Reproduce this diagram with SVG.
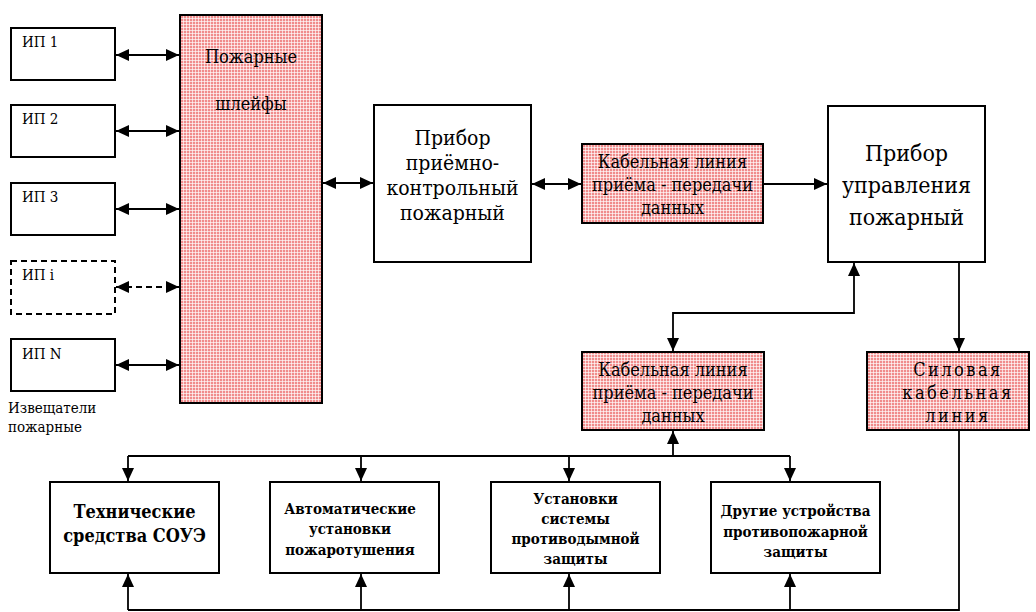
<svg xmlns="http://www.w3.org/2000/svg" width="1036" height="612" viewBox="0 0 1036 612">
<style>
.box{fill:#fff;stroke:#000;stroke-width:2}
.pink{fill:url(#chk);stroke:#000;stroke-width:2}
.dash{fill:#fff;stroke:#000;stroke-width:2;stroke-dasharray:6,4}
.ln{fill:none;stroke:#000;stroke-width:1.8}
.c{text-anchor:middle}
.b{font-weight:bold}
</style>
<defs>
<pattern id="chk" patternUnits="userSpaceOnUse" width="3" height="3">
<rect width="3" height="3" fill="#f08c8c"/>
<path d="M0,0.5H3M0.5,0V3" stroke="#fff" stroke-width="1" stroke-opacity="0.65"/>
</pattern>
<marker id="ah" markerUnits="userSpaceOnUse" markerWidth="14" markerHeight="14" refX="13" refY="6" orient="auto-start-reverse">
<path d="M0,0L13,6L0,12z" fill="#000"/>
</marker>
</defs>

<g id="connectors">
<path class="ln" d="M116,55H179" marker-start="url(#ah)" marker-end="url(#ah)"/>
<path class="ln" d="M116,131H179" marker-start="url(#ah)" marker-end="url(#ah)"/>
<path class="ln" d="M116,209H179" marker-start="url(#ah)" marker-end="url(#ah)"/>
<path class="ln" d="M116,287H179" stroke-dasharray="6,4" marker-start="url(#ah)" marker-end="url(#ah)"/>
<path class="ln" d="M116,365H179" marker-start="url(#ah)" marker-end="url(#ah)"/>
<path class="ln" d="M323,183H373" marker-start="url(#ah)" marker-end="url(#ah)"/>
<path class="ln" d="M532,184H581" marker-start="url(#ah)" marker-end="url(#ah)"/>
<path class="ln" d="M764,184H827" marker-end="url(#ah)"/>
<path class="ln" d="M854,263V313H673V351" marker-start="url(#ah)" marker-end="url(#ah)"/>
<path class="ln" d="M959,263V351" marker-end="url(#ah)"/>
<path class="ln" d="M673,456V431" marker-end="url(#ah)"/>
<path class="ln" d="M128,456H790"/>
<path class="ln" d="M128,456V481" marker-end="url(#ah)"/>
<path class="ln" d="M361,456V481" marker-end="url(#ah)"/>
<path class="ln" d="M569,456V481" marker-end="url(#ah)"/>
<path class="ln" d="M790,456V481" marker-end="url(#ah)"/>
<path class="ln" d="M959,431V610H128"/>
<path class="ln" d="M128,610V574" marker-end="url(#ah)"/>
<path class="ln" d="M361,610V574" marker-end="url(#ah)"/>
<path class="ln" d="M569,610V574" marker-end="url(#ah)"/>
<path class="ln" d="M790,610V574" marker-end="url(#ah)"/>
</g>

<g font-family="DejaVu Serif Condensed, DejaVu Serif, serif" fill="#000">
<g id="ip1"><rect class="box" x="11" y="28" width="104" height="52"/><text x="22" y="47" font-size="15">ИП 1</text></g>
<g id="ip2"><rect class="box" x="11" y="105" width="104" height="52"/><text x="22" y="124" font-size="15">ИП 2</text></g>
<g id="ip3"><rect class="box" x="11" y="183" width="104" height="52"/><text x="22" y="202" font-size="15">ИП 3</text></g>
<g id="ipi"><rect class="dash" x="11" y="261" width="104" height="53"/><text x="22" y="280" font-size="15">ИП i</text></g>
<g id="ipn"><rect class="box" x="11" y="339" width="104" height="52"/><text x="22" y="359" font-size="15">ИП N</text></g>
<g id="ip-label"><text x="8" y="413" font-size="15">Извещатели</text><text x="8" y="432" font-size="15">пожарные</text></g>

<g id="shleyfy"><rect class="pink" x="180" y="15" width="142" height="388"/>
<text class="c" x="251" y="63" font-size="18">Пожарные</text>
<text class="c" x="251" y="110" font-size="18">шлейфы</text></g>

<g id="ppk"><rect class="box" x="374" y="105" width="157" height="157"/>
<text class="c" font-size="21"><tspan x="452.5" y="145">Прибор</tspan><tspan x="452.5" y="170">приёмно-</tspan><tspan x="452.5" y="195">контрольный</tspan><tspan x="452.5" y="220">пожарный</tspan></text></g>

<g id="cable1"><rect class="pink" x="582" y="144" width="181" height="79"/>
<text class="c" font-size="18"><tspan x="672.5" y="168">Кабельная линия</tspan><tspan x="672.5" y="191">приёма - передачи</tspan><tspan x="672.5" y="214">данных</tspan></text></g>

<g id="ppu"><rect class="box" x="828" y="106" width="157" height="156"/>
<text class="c" font-size="23"><tspan x="906.5" y="161">Прибор</tspan><tspan x="906.5" y="193">управления</tspan><tspan x="906.5" y="225">пожарный</tspan></text></g>

<g id="cable2"><rect class="pink" x="582" y="352" width="182" height="78"/>
<text class="c" font-size="18"><tspan x="673" y="376">Кабельная линия</tspan><tspan x="673" y="399">приёма - передачи</tspan><tspan x="673" y="422">данных</tspan></text></g>

<g id="power"><rect class="pink" x="867" y="352" width="162" height="78"/>
<text class="c" font-size="18" letter-spacing="2.5"><tspan x="958" y="376">Силовая</tspan><tspan x="958" y="399">кабельная</tspan><tspan x="958" y="422">линия</tspan></text></g>

<g id="soue"><rect class="box" x="50" y="482" width="169" height="91"/>
<text class="c b" font-size="18"><tspan x="134.5" y="518">Технические</tspan><tspan x="134.5" y="542">средства СОУЭ</tspan></text></g>

<g id="aup"><rect class="box" x="270" y="482" width="169" height="91"/>
<text class="c b" font-size="15"><tspan x="350" y="514">Автоматические</tspan><tspan x="350" y="534">установки</tspan><tspan x="350" y="555">пожаротушения</tspan></text></g>

<g id="smoke"><rect class="box" x="491" y="482" width="169" height="91"/>
<text class="c b" font-size="15"><tspan x="575.5" y="504">Установки</tspan><tspan x="575.5" y="524">системы</tspan><tspan x="575.5" y="544">противодымной</tspan><tspan x="575.5" y="564">защиты</tspan></text></g>

<g id="other"><rect class="box" x="711" y="482" width="169" height="91"/>
<text class="c b" font-size="15"><tspan x="795.5" y="516">Другие устройства</tspan><tspan x="795.5" y="537">противопожарной</tspan><tspan x="795.5" y="557">защиты</tspan></text></g>
</g>
</svg>
